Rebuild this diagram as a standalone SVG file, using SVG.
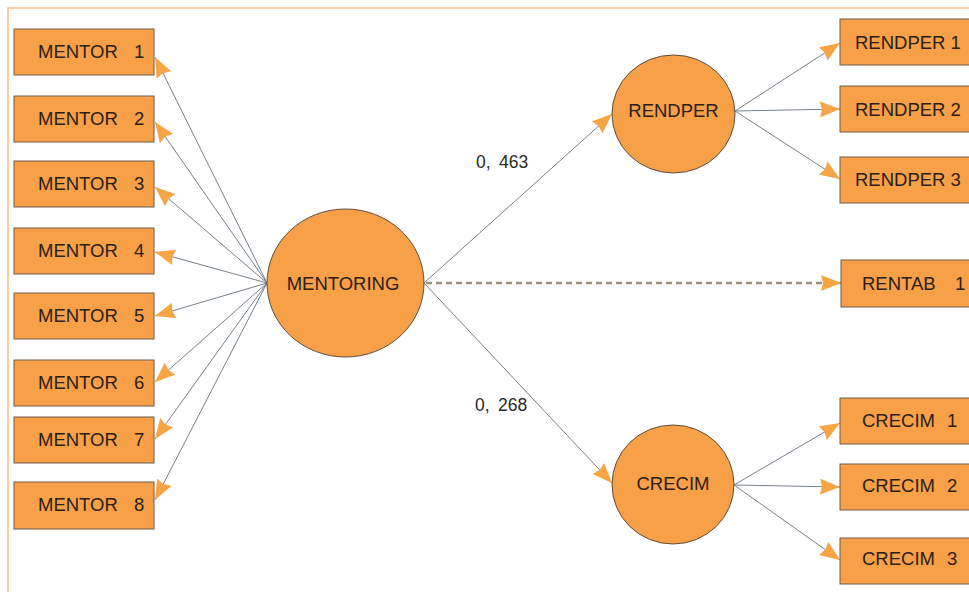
<svg xmlns="http://www.w3.org/2000/svg" width="969" height="592" viewBox="0 0 969 592">
  <defs>
    <marker id="arrow" markerUnits="userSpaceOnUse" markerWidth="22" markerHeight="18" refX="20" refY="8" orient="auto">
      <path d="M0,0 L20,8 L0,16 L2,8 z" fill="#F7A445"/>
    </marker>
    <style>
      .box { fill: #F7A047; stroke: #6E5B48; stroke-width: 1; }
      .lat { fill: #F7A047; stroke: #5E4E3E; stroke-width: 1; }
      .lbl { font-family: "Liberation Sans", Arial, sans-serif; font-size: 18.5px; fill: #2A2018; }
      .num { font-family: "Liberation Sans", Arial, sans-serif; font-size: 17.5px; fill: #2A2A2A; }
      .edge { stroke: #76808C; stroke-width: 1; fill: none; marker-end: url(#arrow); }
      .dash { stroke: #A09080; stroke-width: 2.5; stroke-dasharray: 6 4; fill: none; marker-end: url(#arrow); }
    </style>
  </defs>

  <rect width="969" height="592" fill="#FFFFFF"/>
  <!-- outer frame -->
  <rect x="8" y="8" width="975" height="600" fill="none" stroke="#F5BE85" stroke-width="1.5"/>

  <!-- connectors -->
  <g id="connectors">
    <line class="edge" x1="267" y1="283" x2="155" y2="57"/>
    <line class="edge" x1="267" y1="283" x2="155" y2="122"/>
    <line class="edge" x1="267" y1="283" x2="155" y2="187"/>
    <line class="edge" x1="267" y1="283" x2="155" y2="252"/>
    <line class="edge" x1="267" y1="283" x2="155" y2="316"/>
    <line class="edge" x1="267" y1="283" x2="155" y2="382"/>
    <line class="edge" x1="267" y1="283" x2="155" y2="439"/>
    <line class="edge" x1="267" y1="283" x2="155" y2="500"/>

    <line class="edge" x1="424" y1="283" x2="612" y2="114"/>
    <line class="edge" x1="424" y1="283" x2="612" y2="483"/>
    <line class="dash" x1="426" y1="283" x2="841" y2="283"/>

    <line class="edge" x1="735" y1="111" x2="840" y2="43"/>
    <line class="edge" x1="735" y1="111" x2="840" y2="109"/>
    <line class="edge" x1="735" y1="111" x2="840" y2="179"/>

    <line class="edge" x1="734" y1="485" x2="840" y2="423"/>
    <line class="edge" x1="734" y1="485" x2="840" y2="487"/>
    <line class="edge" x1="734" y1="485" x2="840" y2="560"/>

    <text class="num" x="476" y="168">0,<tspan x="499">463</tspan></text>
    <text class="num" x="475" y="411">0,<tspan x="498">268</tspan></text>
  </g>

  <!-- indicator boxes -->
  <g id="mentor1"><rect class="box" x="14" y="29" width="140" height="46"/><text class="lbl" x="38" y="58">MENTOR<tspan x="134">1</tspan></text></g>
  <g id="mentor2"><rect class="box" x="14" y="96" width="140" height="46"/><text class="lbl" x="38" y="125">MENTOR<tspan x="134">2</tspan></text></g>
  <g id="mentor3"><rect class="box" x="14" y="161" width="140" height="46"/><text class="lbl" x="38" y="190">MENTOR<tspan x="134">3</tspan></text></g>
  <g id="mentor4"><rect class="box" x="14" y="228" width="140" height="46"/><text class="lbl" x="38" y="257">MENTOR<tspan x="134">4</tspan></text></g>
  <g id="mentor5"><rect class="box" x="14" y="293" width="140" height="46"/><text class="lbl" x="38" y="322">MENTOR<tspan x="134">5</tspan></text></g>
  <g id="mentor6"><rect class="box" x="14" y="360" width="140" height="46"/><text class="lbl" x="38" y="389">MENTOR<tspan x="134">6</tspan></text></g>
  <g id="mentor7"><rect class="box" x="14" y="417" width="140" height="46"/><text class="lbl" x="38" y="446">MENTOR<tspan x="134">7</tspan></text></g>
  <g id="mentor8"><rect class="box" x="14" y="482" width="140" height="47"/><text class="lbl" x="38" y="511">MENTOR<tspan x="134">8</tspan></text></g>

  <!-- latent variables -->
  <g id="mentoring"><ellipse class="lat" cx="345.5" cy="283" rx="78.5" ry="74"/><text class="lbl" x="343" y="289.5" text-anchor="middle">MENTORING</text></g>
  <g id="rendper"><ellipse class="lat" cx="673.5" cy="114" rx="61.5" ry="59"/><text class="lbl" x="673.5" y="117" text-anchor="middle">RENDPER</text></g>
  <g id="crecim"><ellipse class="lat" cx="673" cy="484.5" rx="61" ry="59.5"/><text class="lbl" x="673" y="490" text-anchor="middle">CRECIM</text></g>

  <!-- outcome boxes -->
  <g id="rendper1"><rect class="box" x="840" y="19" width="140" height="46"/><text class="lbl" x="855" y="49">RENDPER 1</text></g>
  <g id="rendper2"><rect class="box" x="840" y="86" width="140" height="46"/><text class="lbl" x="855" y="116">RENDPER 2</text></g>
  <g id="rendper3"><rect class="box" x="840" y="157" width="140" height="46"/><text class="lbl" x="855" y="186">RENDPER 3</text></g>
  <g id="rentab1"><rect class="box" x="841" y="260" width="140" height="47"/><text class="lbl" x="862" y="290">RENTAB<tspan x="955">1</tspan></text></g>
  <g id="crecim1"><rect class="box" x="840" y="398" width="140" height="46"/><text class="lbl" x="862" y="427">CRECIM<tspan x="947">1</tspan></text></g>
  <g id="crecim2"><rect class="box" x="840" y="464" width="140" height="46"/><text class="lbl" x="862" y="492">CRECIM<tspan x="947">2</tspan></text></g>
  <g id="crecim3"><rect class="box" x="840" y="538" width="140" height="46"/><text class="lbl" x="862" y="565">CRECIM<tspan x="947">3</tspan></text></g>
</svg>
